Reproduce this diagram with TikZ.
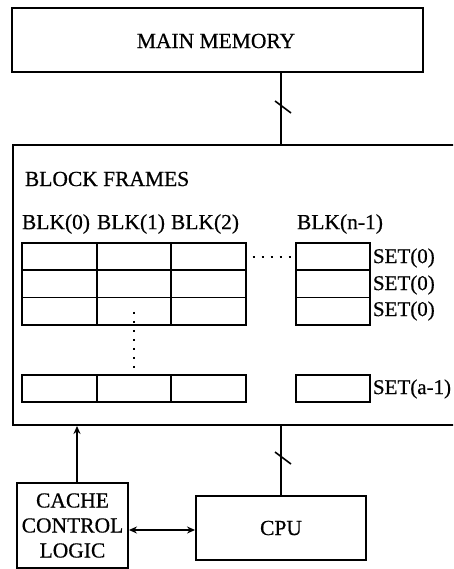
\documentclass[tikz,border=0pt]{standalone}
\usepackage{fontspec}
\setmainfont{Liberation Serif}[FakeBold=0.6]
\usetikzlibrary{arrows.meta}
\begin{document}
\begin{tikzpicture}[x=1pt,y=-1pt,
  line width=1.9pt,
  box/.style={draw,rectangle,inner sep=0pt},
  cell/.style={draw,rectangle,inner sep=0pt,minimum width=74.5pt,minimum height=27.3pt,line width=1.7pt},
  lbl/.style={font=\fontsize{21.5}{21.5}\selectfont,inner sep=0pt},
  setlbl/.style={font=\fontsize{21}{21}\selectfont,inner sep=0pt,anchor=west},
  arr/.style={-{Stealth[length=8pt,width=7pt]}},
  darr/.style={{Stealth[length=8pt,width=7pt]}-{Stealth[length=8pt,width=7pt]}},
  tick/.style={line width=1.6pt},
  dotsh/.style={line width=2pt,dash pattern=on 2pt off 7pt},
]
\useasboundingbox (0,0) rectangle (453,569);
\begin{scope}
\clip (0,0) rectangle (453,569);
% main memory
\node[box,minimum width=411pt,minimum height=64pt] (mm) at (217.5,40) {};
\node[lbl] (mmt) at (216,41) {MAIN MEMORY};
% big box
\node[box,minimum width=457pt,minimum height=280pt] (big) at (241.5,285) {};
\node[lbl,anchor=west] (bf) at (24,179) {BLOCK FRAMES};
% BLK labels
\node[lbl] (b0) at (56,224) {BLK(0)};
\node[lbl] (b1) at (131,224) {BLK(1)};
\node[lbl] (b2) at (205,224) {BLK(2)};
\node[lbl] (bn) at (340,224) {BLK(n-1)};
% cells
\foreach \r/\y in {1/256.65,2/283.95,3/311.25,4/388.5}{
  \node[cell] (c\r a) at (59.5,\y) {};
  \node[cell] (c\r b) at (134,\y) {};
  \node[cell] (c\r c) at (208.5,\y) {};
  \node[cell] (c\r n) at (333,\y) {};
}
\node[setlbl] (s1) at (372,258) {SET(0)};
\node[setlbl] (s2) at (372,285) {SET(0)};
\node[setlbl] (s3) at (372,311) {SET(0)};
\node[setlbl] (s4) at (372,389) {SET(a-1)};
% dots
\draw[dotsh] ([xshift=6pt]c1c.east) -- ([xshift=-4pt]c1n.west);
\draw[dotsh] ([yshift=14pt]c3b.south) -- ([yshift=-2pt]c4b.north);
% cache control, cpu
\node[box,minimum width=111pt,minimum height=85pt,align=center,font=\fontsize{21.5}{25}\selectfont] (cc) at (72.5,525.5) {CACHE\\CONTROL\\LOGIC};
\node[box,minimum width=170pt,minimum height=64pt] (cpu) at (281,528) {};
\node[lbl] (cput) at (281,528) {CPU};
% connectors
\draw (cpu.north |- mm.south) -- (cpu.north |- big.north);
\draw (cpu.north) -- (cpu.north |- big.south);
\draw[arr] (cc.north -| 77,0) -- (77,0 |- big.south);
\draw[darr] (cc.east |- 0,530) -- (cpu.west |- 0,530);
% ticks
\coordinate (t1) at (283,107);
\coordinate (t2) at (283,458);
\draw[tick] ([shift={(-8,-6)}]t1) -- ([shift={(8,6)}]t1);
\draw[tick] ([shift={(-8,-6)}]t2) -- ([shift={(8,6)}]t2);
\end{scope}
\end{tikzpicture}
\end{document}
